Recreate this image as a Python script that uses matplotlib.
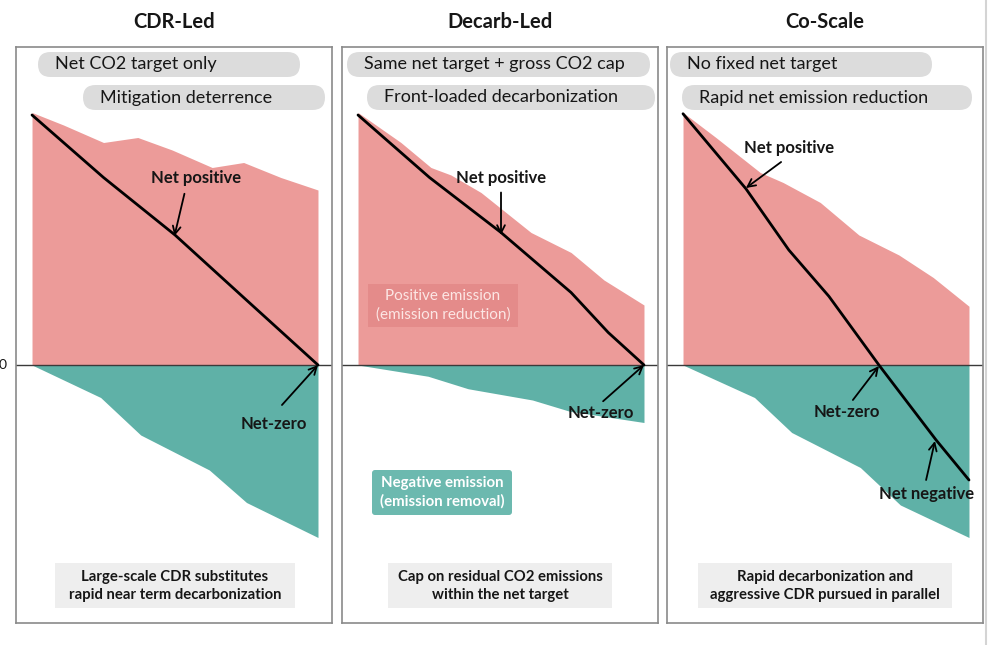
import matplotlib
matplotlib.use("Agg")
import matplotlib.pyplot as plt
from matplotlib.patches import FancyBboxPatch, Rectangle

plt.rcParams.update({"font.family": ["Lato", "DejaVu Sans"], "font.size": 10})
PINK = "#EC9B99"; TEAL = "#5FB1A7"; PILL = "#DCDCDC"; NOTE = "#EEEEEE"; INK = "#161616"

# ---- data (time index 0..10, emissions in arbitrary units) ----
titles = ["CDR-Led", "Decarb-Led", "Co-Scale"]
pill_1 = ["Net CO2 target only", "Same net target + gross CO2 cap", "No fixed net target"]
pill_2 = ["Mitigation deterrence", "Front-loaded decarbonization", "Rapid net emission reduction"]
notes = ["Large-scale CDR substitutes\nrapid near term decarbonization",
         "Cap on residual CO2 emissions\nwithin the net target",
         "Rapid decarbonization and\naggressive CDR pursued in parallel"]

cdr_pos_t = [0, 1.1, 2.5, 3.7, 4.9, 6.3, 7.4, 8.7, 10]
cdr_pos = [10.1, 9.6, 8.9, 9.1, 8.6, 7.9, 8.1, 7.5, 7.0]
cdr_neg_t = [0, 2.4, 3.8, 6.2, 7.5, 10]
cdr_neg = [0, -1.3, -2.8, -4.2, -5.5, -6.9]
cdr_net_t = [0, 2.5, 5.0, 7.4, 10]
cdr_net = [10, 7.5, 5.2, 2.7, 0]

dec_pos_t = [0, 1.5, 2.55, 3.25, 4.3, 6.05, 7.45, 8.6, 10]
dec_pos = [10.1, 8.9, 7.9, 7.6, 6.9, 5.3, 4.5, 3.4, 2.4]
dec_neg_t = [0, 2.45, 3.85, 6.1, 7.4, 10]
dec_neg = [0, -0.45, -0.95, -1.4, -1.85, -2.3]
dec_net_t = [0, 2.5, 5.0, 7.45, 8.75, 10]
dec_net = [10, 7.5, 5.3, 2.9, 1.3, 0]

co_pos_t = [0, 1.15, 2.7, 3.5, 4.8, 6.15, 7.55, 8.75, 10]
co_pos = [10.1, 9.1, 7.7, 7.3, 6.5, 5.2, 4.4, 3.5, 2.35]
co_neg_t = [0, 2.5, 3.8, 6.2, 7.6, 10]
co_neg = [0, -1.3, -2.7, -4.1, -5.6, -6.9]
co_net_t = [0, 2.2, 3.7, 5.1, 6.85, 8.85, 10]
co_net = [10.05, 7.05, 4.6, 2.75, 0, -3.0, -4.6]

series = [(cdr_pos_t, cdr_pos, cdr_neg_t, cdr_neg, cdr_net_t, cdr_net),
          (dec_pos_t, dec_pos, dec_neg_t, dec_neg, dec_net_t, dec_net),
          (co_pos_t, co_pos, co_neg_t, co_neg, co_net_t, co_net)]

# ---- layout (pixels) ----
W, H = 1001, 645
box_left = [16, 342, 667]; box_w = 316; box_top = 47; box_bot = 623
pill1_x = [(38, 300), (347, 650), (670, 932)]
pill2_x = [(83, 325), (367, 655), (682, 972)]
note_x = [(55, 295), (388, 612), (698, 952)]

fig = plt.figure(figsize=(W / 100, H / 100), dpi=100)

axes = []
for i, (pt, pv, nt, nv, lt, lv) in enumerate(series):
    ax = fig.add_axes([box_left[i] / W, (H - box_bot) / H, box_w / W, (box_bot - box_top) / H])
    ax.set_xlim(-0.56, 10.49); ax.set_ylim(-10.32, 12.72)
    ax.fill_between(pt, 0, pv, color=PINK, lw=0)
    ax.fill_between(nt, 0, nv, color=TEAL, lw=0)
    ax.axhline(0, color="#3a3a3a", lw=1.0)
    ax.plot(lt, lv, color="black", lw=2, solid_capstyle="round")
    ax.set_xticks([]); ax.set_yticks([])
    for s in ax.spines.values():
        s.set_color("#8a8a8a"); s.set_linewidth(1.2)
    axes.append(ax)


def label(ax, text, txy, tail, tip):
    ax.text(*txy, text, ha="center", va="center", fontsize=12, fontweight="bold", color=INK)
    ax.annotate("", xy=tip, xytext=tail,
                arrowprops=dict(arrowstyle="->", color="black", lw=1.3, mutation_scale=14,
                                shrinkA=0, shrinkB=0))


label(axes[0], "Net positive", (5.72, 7.48), (5.33, 6.85), (4.98, 5.16))
label(axes[0], "Net-zero", (8.46, -2.36), (8.74, -1.6), (10, 0))
label(axes[1], "Net positive", (5.0, 7.48), (5.0, 6.9), (5.0, 5.2))
label(axes[1], "Net-zero", (8.5, -1.92), (8.57, -1.45), (10, 0))
label(axes[2], "Net positive", (3.7, 8.68), (3.43, 8.12), (2.2, 7.08))
label(axes[2], "Net-zero", (5.73, -1.88), (5.94, -1.4), (6.85, -0.04))
label(axes[2], "Net negative", (8.5, -5.16), (8.5, -4.6), (8.81, -3.04))

# ---- overlay in pixel coordinates for pills, titles and note boxes ----
ov = fig.add_axes([0, 0, 1, 1])
ov.set_xlim(0, W); ov.set_ylim(H, 0); ov.axis("off")

for i in range(3):
    cx = box_left[i] + box_w / 2
    ov.text(cx, 22, titles[i], ha="center", va="center", fontsize=14.5, fontweight="bold", color=INK)
    for (x0, x1), y0, txt in [(pill1_x[i], 52, pill_1[i]), (pill2_x[i], 85, pill_2[i])]:
        ov.add_patch(FancyBboxPatch((x0, y0), x1 - x0, 25, boxstyle="round,pad=0,rounding_size=12.5",
                                    fc=PILL, ec="none"))
        ov.text(x0 + 17, y0 + 12.5, txt, ha="left", va="center", fontsize=13, color=INK)
    x0, x1 = note_x[i]
    ov.add_patch(Rectangle((x0, 563), x1 - x0, 45, fc=NOTE, ec="none"))
    ov.text((x0 + x1) / 2, 586, notes[i], ha="center", va="center", fontsize=10.7,
            fontweight="bold", color=INK, linespacing=1.35)

ov.add_patch(Rectangle((368, 284), 150, 43, fc="#E48B8A", ec="none"))
ov.text(443, 305.5, "Positive emission\n(emission reduction)", ha="center", va="center",
        fontsize=11, color="#FCE6E4", linespacing=1.35)
ov.add_patch(FancyBboxPatch((372, 470), 140, 45, boxstyle="round,pad=0,rounding_size=3",
                            fc="#6CB9AF", ec="none"))
ov.text(442, 492.5, "Negative emission\n(emission removal)", ha="center", va="center",
        fontsize=10.8, color="white", fontweight="bold", linespacing=1.35)

ov.text(3, 365, "0", ha="center", va="center", fontsize=10, color=INK)
ov.plot([986, 986], [0, H], color="#d4d4d4", lw=1.5)

fig.savefig("out.png", dpi=100, facecolor="white")
